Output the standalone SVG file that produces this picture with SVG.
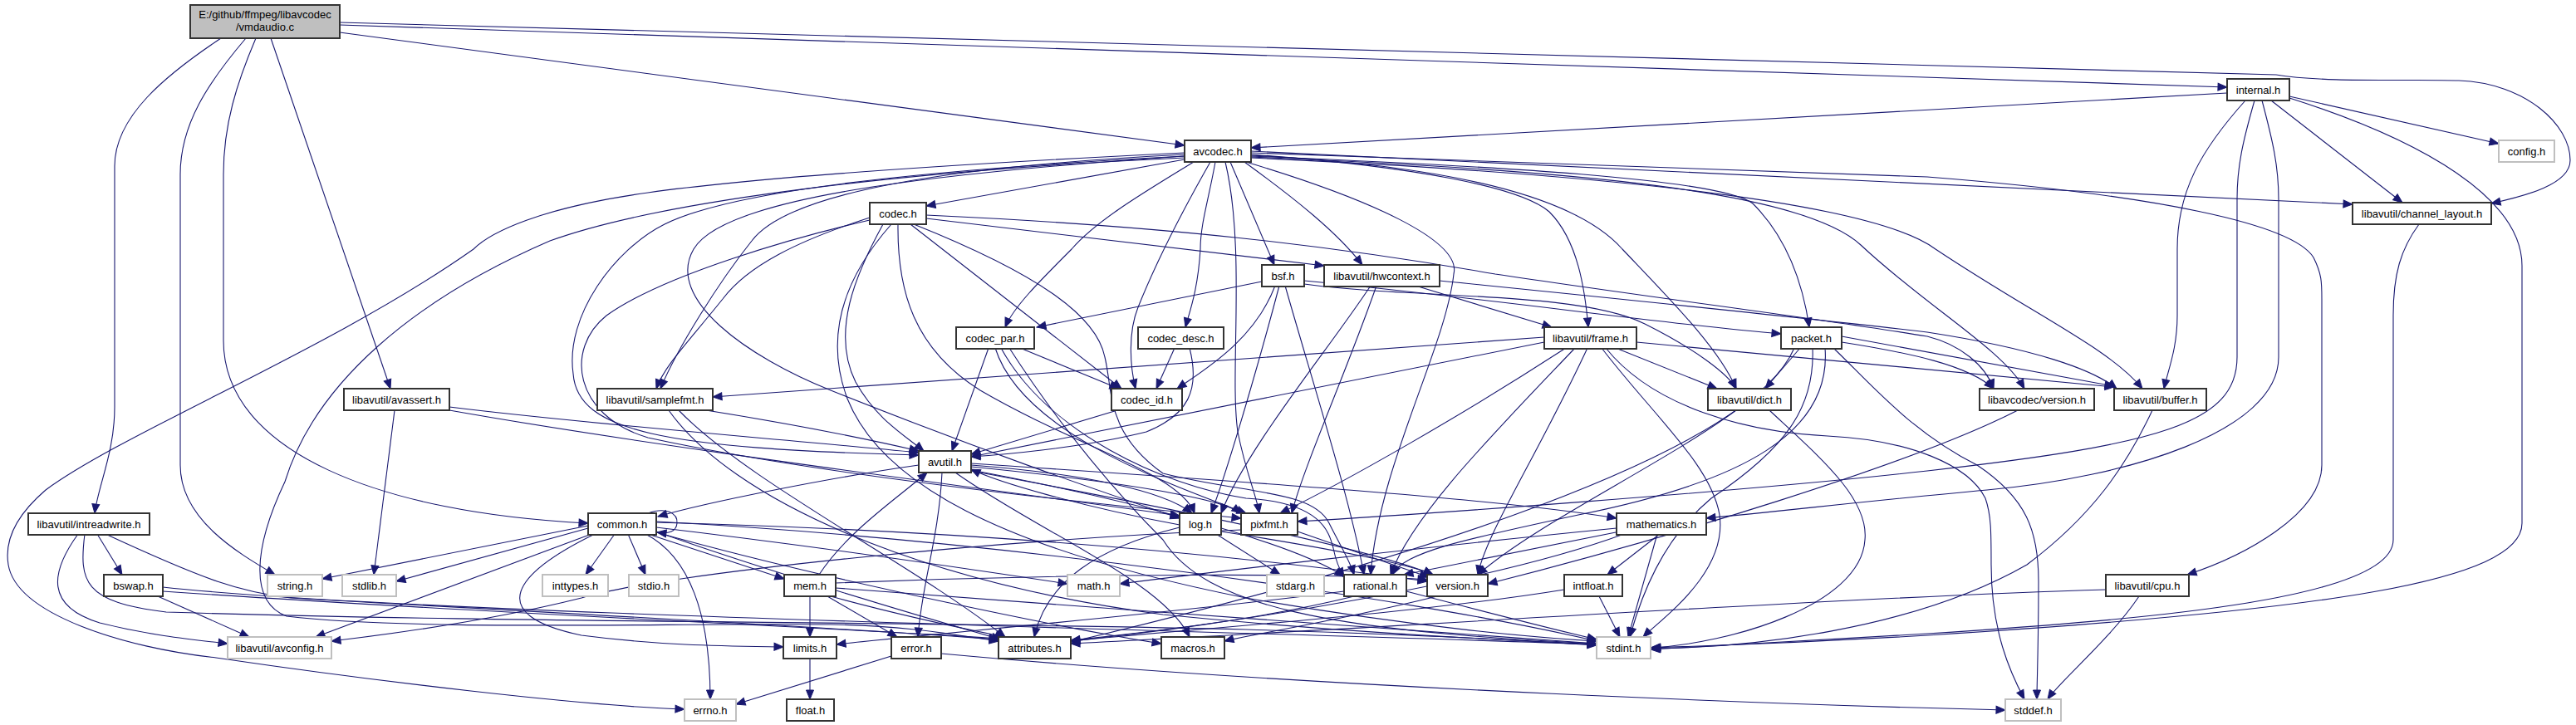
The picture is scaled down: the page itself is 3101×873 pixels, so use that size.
<svg xmlns="http://www.w3.org/2000/svg" width="3101" height="873" viewBox="0 0 3101 873">
<style>
.e{fill:none;stroke:#191970;stroke-width:1.1;marker-end:url(#arr)}
.n rect{fill:#ffffff;stroke:#333333;stroke-width:2}
.n.x rect{stroke:#bfbfbf}
.n.r rect{fill:#bfbfbf}
.n text{font-family:"Liberation Sans",Arial,sans-serif;font-size:13px;text-anchor:middle;fill:#000}
</style>
<defs>
<marker id="arr" markerUnits="userSpaceOnUse" markerWidth="12" markerHeight="10" refX="11" refY="4.5" orient="auto" overflow="visible">
<path d="M0,0 L11,4.5 L0,9 z" fill="#191970" stroke="#191970" stroke-width="1"/>
</marker>
</defs>
<rect width="3101" height="873" fill="#ffffff"/>
<g id="edges">
<path class="e" d="M266,46 C200,90 138,140 138,200 L138,490 C138,545 118,585 114,618"/>
<path class="e" d="M296,46 C250,100 217,150 217,210 L217,560 C217,625 285,665 331,692"/>
<path class="e" d="M308,46 C285,100 269,150 269,210 L269,410 C269,545 460,618 708,630"/>
<path class="e" d="M326,46 L470,468"/>
<path class="e" d="M409,39 L1426,175"/>
<path class="e" d="M409,30 L2681,105"/>
<path class="e" d="M409,27 L2740,90 C2800,100 2900,95 2960,97 C3040,100 3094,150 3094,193 C3094,222 3040,236 2999,245"/>
<path class="e" d="M2681,112 L1506,178"/>
<path class="e" d="M2703,121 C2650,180 2621,230 2621,300 L2621,380 C2621,420 2610,445 2605,468"/>
<path class="e" d="M2714,121 C2700,170 2693,200 2693,240 L2693,430 C2693,510 2600,535 2320,567 C2100,592 1700,620 1562,628"/>
<path class="e" d="M2723,121 C2736,170 2743,200 2743,240 L2743,430 C2743,520 2560,575 2392,590 C2250,603 2150,615 2054,624"/>
<path class="e" d="M2734,121 L2892,244"/>
<path class="e" d="M2756,116 L3008,173"/>
<path class="e" d="M2756,118 C2920,170 3036,240 3036,320 L3036,630 C3036,700 2800,735 2320,765 C2200,772 2050,778 1987,780"/>
<path class="e" d="M1426,192 L1115,248"/>
<path class="e" d="M1481,195 L1534,319"/>
<path class="e" d="M1498,195 C1560,240 1610,280 1640,319"/>
<path class="e" d="M1437,195 C1380,230 1320,265 1290,300 C1250,340 1220,370 1210,394"/>
<path class="e" d="M1463,195 C1455,240 1445,270 1445,300 C1442,350 1432,375 1427,394"/>
<path class="e" d="M1457,195 C1420,260 1390,320 1370,370 C1358,400 1360,440 1367,468"/>
<path class="e" d="M1506,186 C1700,200 1830,225 1865,255 C1900,290 1908,350 1912,394"/>
<path class="e" d="M1506,188 C1800,200 2070,215 2110,245 C2150,285 2170,340 2178,394"/>
<path class="e" d="M1506,187 C1760,200 1900,240 1953,300 C2010,360 2070,420 2090,468"/>
<path class="e" d="M1506,189 C1900,205 2170,230 2240,295 C2320,370 2410,420 2437,468"/>
<path class="e" d="M1506,190 C1900,208 2250,240 2330,300 C2450,380 2540,420 2579,468"/>
<path class="e" d="M1506,182 L2832,246"/>
<path class="e" d="M1506,184 L2320,213 C2600,235 2760,270 2785,310 C2795,330 2795,340 2795,360 L2795,560 C2795,620 2700,670 2633,692"/>
<path class="e" d="M1426,186 C1150,200 950,230 905,290 C865,340 815,420 795,468"/>
<path class="e" d="M1426,188 C1100,205 880,230 800,270 C740,300 680,380 690,450 C695,520 800,540 1106,548"/>
<path class="e" d="M1426,188 C1100,210 870,240 835,300 C800,360 900,430 1000,470 C1200,550 1350,600 1420,624"/>
<path class="e" d="M1475,195 C1500,300 1480,450 1490,520 C1500,570 1512,595 1516,618"/>
<path class="e" d="M1500,195 C1650,240 1760,290 1750,330 C1740,420 1660,560 1650,692"/>
<path class="e" d="M1426,190 C1100,205 800,240 662,290 C500,360 380,460 343,580 C305,660 300,725 345,742 C500,760 800,750 1000,752 C1100,754 1150,765 1202,772"/>
<path class="e" d="M1426,184 C1100,200 900,215 780,232 C650,250 590,280 570,300 C400,420 150,520 55,590 C20,620 5,650 10,680 C20,740 150,780 260,792 C450,820 700,850 824,854"/>
<path class="e" d="M1073,270 C1020,330 990,400 1020,480 C1060,580 1200,660 1500,720 C1700,755 1850,768 1922,772"/>
<path class="e" d="M1063,270 C1030,330 1000,400 1030,460 C1055,505 1090,525 1112,543"/>
<path class="e" d="M1115,263 L1594,320"/>
<path class="e" d="M1081,270 C1080,350 1100,420 1180,470 C1300,540 1420,570 1438,618"/>
<path class="e" d="M1047,265 C960,285 800,330 730,380 C680,420 690,500 780,527 C1000,575 1350,610 1494,624"/>
<path class="e" d="M1100,270 C1250,330 1320,380 1330,430 C1340,470 1330,520 1400,570 C1500,595 1580,590 1600,630 C1615,660 1625,675 1630,692"/>
<path class="e" d="M1047,262 C960,290 900,320 870,360 C830,410 800,440 790,468"/>
<path class="e" d="M1096,270 L1350,468"/>
<path class="e" d="M1115,259 C1400,272 1600,295 1800,330 C2000,360 2200,385 2320,405 C2360,415 2390,440 2400,468"/>
<path class="e" d="M2912,270 C2890,300 2881,330 2881,380 L2881,650 C2881,720 2600,745 2320,763 C2150,772 2050,778 1987,782"/>
<path class="e" d="M1570,342 C1700,360 1900,350 1980,390 C2040,420 2080,450 2090,468"/>
<path class="e" d="M1540,344 C1520,420 1480,560 1458,618"/>
<path class="e" d="M1547,344 C1580,460 1625,600 1642,692"/>
<path class="e" d="M1535,344 C1510,410 1450,445 1417,468"/>
<path class="e" d="M1519,339 L1248,394"/>
<path class="e" d="M1570,338 C1800,360 2000,390 2144,402"/>
<path class="e" d="M1733,338 C1950,360 2150,380 2320,400 C2450,420 2520,445 2548,468"/>
<path class="e" d="M1704,344 L1868,394"/>
<path class="e" d="M1650,344 C1600,420 1500,540 1470,618"/>
<path class="e" d="M1657,344 C1620,450 1570,560 1555,618"/>
<path class="e" d="M1215,419 C1280,520 1350,600 1400,650 C1450,730 1600,760 1922,775"/>
<path class="e" d="M1190,419 L1146,543"/>
<path class="e" d="M1205,419 C1260,520 1400,585 1500,600 C1590,605 1600,640 1605,660 C1608,675 1612,685 1618,695"/>
<path class="e" d="M1198,419 C1230,520 1400,580 1500,618"/>
<path class="e" d="M1228,419 L1347,468"/>
<path class="e" d="M1432,419 C1445,470 1430,500 1380,520 C1300,540 1200,548 1169,550"/>
<path class="e" d="M1414,419 L1392,468"/>
<path class="e" d="M1933,419 C1990,490 2100,520 2200,525 C2300,530 2370,560 2390,600 C2397,620 2397,640 2397,680 C2397,760 2420,810 2437,842"/>
<path class="e" d="M1928,419 C1990,500 2060,560 2070,620 C2080,690 2000,745 1978,767"/>
<path class="e" d="M1859,412 L1169,550"/>
<path class="e" d="M1970,412 L2545,466"/>
<path class="e" d="M1945,419 L2067,468"/>
<path class="e" d="M1896,419 C1800,520 1700,620 1674,692"/>
<path class="e" d="M1859,406 L858,478"/>
<path class="e" d="M1885,419 C1760,500 1620,580 1541,618"/>
<path class="e" d="M1911,419 C1850,550 1790,640 1779,692"/>
<path class="e" d="M2207,419 C2250,460 2300,520 2380,560 C2440,600 2454,640 2454,700 C2454,780 2452,820 2452,842"/>
<path class="e" d="M2182,419 C2185,490 2150,540 2060,600 C2000,650 1975,720 1962,767"/>
<path class="e" d="M2197,419 C2205,520 2100,580 1900,620 C1760,650 1690,665 1676,692"/>
<path class="e" d="M2160,419 C2100,560 1600,700 1289,773"/>
<path class="e" d="M2217,405 L2545,465"/>
<path class="e" d="M2167,419 L2125,468"/>
<path class="e" d="M2217,412 C2300,425 2370,440 2400,468"/>
<path class="e" d="M475,494 L450,692"/>
<path class="e" d="M541,490 C700,510 900,525 1106,545"/>
<path class="e" d="M541,494 C800,540 1200,590 1420,621"/>
<path class="e" d="M805,494 C880,600 1100,700 1400,740 C1650,765 1850,772 1922,776"/>
<path class="e" d="M850,494 C950,510 1050,530 1106,543"/>
<path class="e" d="M817,494 C900,580 1100,680 1210,767"/>
<path class="e" d="M1345,494 L1169,547"/>
<path class="e" d="M2090,494 C2000,560 1850,630 1779,692"/>
<path class="e" d="M2130,494 C2190,550 2250,600 2245,650 C2240,730 2080,775 1988,780"/>
<path class="e" d="M2429,494 C2300,560 2000,650 1791,703"/>
<path class="e" d="M2591,494 C2560,560 2520,620 2440,680 C2300,760 2100,780 1988,781"/>
<path class="e" d="M1106,560 C1000,575 850,605 792,622"/>
<path class="e" d="M1134,569 C1130,650 1110,700 1105,767"/>
<path class="e" d="M1169,566 C1350,600 1550,650 1618,694"/>
<path class="e" d="M1169,567 C1400,610 1650,660 1725,692"/>
<path class="e" d="M1150,569 C1250,640 1400,700 1432,767"/>
<path class="e" d="M1169,558 C1500,580 1800,600 1946,624"/>
<path class="e" d="M1169,560 C1300,570 1400,590 1435,618"/>
<path class="e" d="M1169,562 C1350,580 1470,600 1494,618"/>
<path class="e" d="M94,643 C60,690 55,730 120,750 C180,765 230,770 274,775"/>
<path class="e" d="M102,643 C95,700 100,725 200,737 C600,750 1100,748 1500,758 C1700,764 1850,772 1922,777"/>
<path class="e" d="M127,643 C250,700 290,713 350,720 C700,740 1000,755 1202,770"/>
<path class="e" d="M117,643 L147,692"/>
<path class="e" d="M777,643 C830,670 855,740 855,842"/>
<path class="e" d="M740,643 L705,692"/>
<path class="e" d="M716,643 C620,690 580,740 700,765 C800,778 880,778 943,779"/>
<path class="e" d="M790,635 C1000,660 1200,690 1285,703"/>
<path class="e" d="M790,628 C1200,650 1700,720 1922,772"/>
<path class="e" d="M756,643 L777,692"/>
<path class="e" d="M708,636 L477,700"/>
<path class="e" d="M708,633 L388,697"/>
<path class="e" d="M790,640 C900,680 1100,740 1205,770"/>
<path class="e" d="M790,641 C1000,700 1300,760 1398,775"/>
<path class="e" d="M790,629 C1200,640 1500,670 1718,700"/>
<path class="e" d="M712,643 L380,767"/>
<path class="e" d="M780,643 L944,697"/>
<path class="e" d="M780,618 C802,610 816,618 815,630 C814,640 806,643 791,641"/>
<path class="e" d="M1464,643 L1541,692"/>
<path class="e" d="M1420,632 C1300,610 1200,580 1169,565"/>
<path class="e" d="M1420,635 C1320,660 1260,700 1245,767"/>
<path class="e" d="M1470,640 C1600,660 1700,680 1725,692"/>
<path class="e" d="M1494,638 C1200,650 800,690 700,720 C600,745 500,760 399,772"/>
<path class="e" d="M1562,640 L1720,695"/>
<path class="e" d="M1995,643 L1960,767"/>
<path class="e" d="M1946,636 C1700,660 1450,690 1348,703"/>
<path class="e" d="M1955,643 C1800,700 1500,750 1289,771"/>
<path class="e" d="M1950,640 L1690,692"/>
<path class="e" d="M1998,643 L1935,692"/>
<path class="e" d="M196,707 C500,740 1500,760 1922,776"/>
<path class="e" d="M190,718 L300,767"/>
<path class="e" d="M196,712 C600,740 1000,755 1202,769"/>
<path class="e" d="M975,718 L975,767"/>
<path class="e" d="M1006,708 C1300,730 1700,760 1922,775"/>
<path class="e" d="M1000,718 C1080,740 1150,755 1210,767"/>
<path class="e" d="M996,718 L1080,767"/>
<path class="e" d="M986,692 C1020,640 1080,600 1116,569"/>
<path class="e" d="M1006,702 C1300,690 1600,690 1718,698"/>
<path class="e" d="M1693,712 C1800,740 1880,760 1922,770"/>
<path class="e" d="M1618,712 C1400,740 1100,765 1007,776"/>
<path class="e" d="M1630,718 C1500,750 1350,765 1289,772"/>
<path class="e" d="M1730,718 C1600,750 1500,765 1474,772"/>
<path class="e" d="M1925,718 L1950,767"/>
<path class="e" d="M1883,710 C1700,740 1400,760 1289,772"/>
<path class="e" d="M2575,718 C2540,770 2480,820 2465,842"/>
<path class="e" d="M2535,710 C2200,720 1600,760 1289,775"/>
<path class="e" d="M1073,790 L886,848"/>
<path class="e" d="M1133,787 C1600,830 2200,850 2414,855"/>
<path class="e" d="M975,792 L975,842"/>
</g>
<g id="nodes">
<g id="n_root" class="n r"><rect x="229" y="6" width="180" height="40"/><text x="319" y="21.5">E:/github/ffmpeg/libavcodec</text><text x="319" y="36.5">/vmdaudio.c</text></g>
<g id="n_internal" class="n"><rect x="2681" y="95" width="75" height="26"/><text x="2718.5" y="112.5">internal.h</text></g>
<g id="n_avcodec" class="n"><rect x="1426" y="169" width="80" height="26"/><text x="1466" y="186.5">avcodec.h</text></g>
<g id="n_config" class="n x"><rect x="3008" y="169" width="67" height="26"/><text x="3041.5" y="186.5">config.h</text></g>
<g id="n_codec" class="n"><rect x="1047" y="244" width="68" height="26"/><text x="1081" y="261.5">codec.h</text></g>
<g id="n_channel_layout" class="n"><rect x="2832" y="244" width="167" height="26"/><text x="2915.5" y="261.5">libavutil/channel_layout.h</text></g>
<g id="n_bsf" class="n"><rect x="1519" y="319" width="51" height="26"/><text x="1544.5" y="336.5">bsf.h</text></g>
<g id="n_hwcontext" class="n"><rect x="1594" y="319" width="139" height="26"/><text x="1663.5" y="336.5">libavutil/hwcontext.h</text></g>
<g id="n_codec_par" class="n"><rect x="1151" y="394" width="94" height="26"/><text x="1198" y="411.5">codec_par.h</text></g>
<g id="n_codec_desc" class="n"><rect x="1370" y="394" width="103" height="26"/><text x="1421.5" y="411.5">codec_desc.h</text></g>
<g id="n_frame" class="n"><rect x="1859" y="394" width="111" height="26"/><text x="1914.5" y="411.5">libavutil/frame.h</text></g>
<g id="n_packet" class="n"><rect x="2144" y="394" width="73" height="26"/><text x="2180.5" y="411.5">packet.h</text></g>
<g id="n_avassert" class="n"><rect x="414" y="468" width="127" height="26"/><text x="477.5" y="485.5">libavutil/avassert.h</text></g>
<g id="n_samplefmt" class="n"><rect x="719" y="468" width="139" height="26"/><text x="788.5" y="485.5">libavutil/samplefmt.h</text></g>
<g id="n_codec_id" class="n"><rect x="1338" y="468" width="85" height="26"/><text x="1380.5" y="485.5">codec_id.h</text></g>
<g id="n_dict" class="n"><rect x="2056" y="468" width="100" height="26"/><text x="2106" y="485.5">libavutil/dict.h</text></g>
<g id="n_lavc_version" class="n"><rect x="2383" y="468" width="138" height="26"/><text x="2452" y="485.5">libavcodec/version.h</text></g>
<g id="n_buffer" class="n"><rect x="2545" y="468" width="111" height="26"/><text x="2600.5" y="485.5">libavutil/buffer.h</text></g>
<g id="n_avutil" class="n"><rect x="1106" y="543" width="63" height="26"/><text x="1137.5" y="560.5">avutil.h</text></g>
<g id="n_intreadwrite" class="n"><rect x="34" y="618" width="146" height="26"/><text x="107" y="635.5">libavutil/intreadwrite.h</text></g>
<g id="n_common" class="n"><rect x="708" y="618" width="82" height="26"/><text x="749" y="635.5">common.h</text></g>
<g id="n_log" class="n"><rect x="1420" y="618" width="50" height="26"/><text x="1445" y="635.5">log.h</text></g>
<g id="n_pixfmt" class="n"><rect x="1494" y="618" width="68" height="26"/><text x="1528" y="635.5">pixfmt.h</text></g>
<g id="n_mathematics" class="n"><rect x="1946" y="618" width="108" height="26"/><text x="2000" y="635.5">mathematics.h</text></g>
<g id="n_bswap" class="n"><rect x="125" y="692" width="71" height="26"/><text x="160.5" y="709.5">bswap.h</text></g>
<g id="n_string" class="n x"><rect x="322" y="692" width="66" height="26"/><text x="355" y="709.5">string.h</text></g>
<g id="n_stdlib" class="n x"><rect x="412" y="692" width="65" height="26"/><text x="444.5" y="709.5">stdlib.h</text></g>
<g id="n_inttypes" class="n x"><rect x="653" y="692" width="79" height="26"/><text x="692.5" y="709.5">inttypes.h</text></g>
<g id="n_stdio" class="n x"><rect x="757" y="692" width="60" height="26"/><text x="787" y="709.5">stdio.h</text></g>
<g id="n_mem" class="n"><rect x="944" y="692" width="62" height="26"/><text x="975" y="709.5">mem.h</text></g>
<g id="n_math" class="n x"><rect x="1285" y="692" width="63" height="26"/><text x="1316.5" y="709.5">math.h</text></g>
<g id="n_stdarg" class="n x"><rect x="1525" y="692" width="69" height="26"/><text x="1559.5" y="709.5">stdarg.h</text></g>
<g id="n_rational" class="n"><rect x="1618" y="692" width="75" height="26"/><text x="1655.5" y="709.5">rational.h</text></g>
<g id="n_version" class="n"><rect x="1718" y="692" width="73" height="26"/><text x="1754.5" y="709.5">version.h</text></g>
<g id="n_intfloat" class="n"><rect x="1883" y="692" width="70" height="26"/><text x="1918" y="709.5">intfloat.h</text></g>
<g id="n_cpu" class="n"><rect x="2535" y="692" width="100" height="26"/><text x="2585" y="709.5">libavutil/cpu.h</text></g>
<g id="n_avconfig" class="n x"><rect x="274" y="767" width="125" height="26"/><text x="336.5" y="784.5">libavutil/avconfig.h</text></g>
<g id="n_limits" class="n"><rect x="943" y="767" width="64" height="26"/><text x="975" y="784.5">limits.h</text></g>
<g id="n_error" class="n"><rect x="1073" y="767" width="60" height="26"/><text x="1103" y="784.5">error.h</text></g>
<g id="n_attributes" class="n"><rect x="1202" y="767" width="87" height="26"/><text x="1245.5" y="784.5">attributes.h</text></g>
<g id="n_macros" class="n"><rect x="1398" y="767" width="76" height="26"/><text x="1436" y="784.5">macros.h</text></g>
<g id="n_stdint" class="n x"><rect x="1922" y="767" width="65" height="26"/><text x="1954.5" y="784.5">stdint.h</text></g>
<g id="n_errno" class="n x"><rect x="824" y="842" width="62" height="26"/><text x="855" y="859.5">errno.h</text></g>
<g id="n_float" class="n"><rect x="947" y="842" width="57" height="26"/><text x="975.5" y="859.5">float.h</text></g>
<g id="n_stddef" class="n x"><rect x="2414" y="842" width="67" height="26"/><text x="2447.5" y="859.5">stddef.h</text></g>
</g>
</svg>
